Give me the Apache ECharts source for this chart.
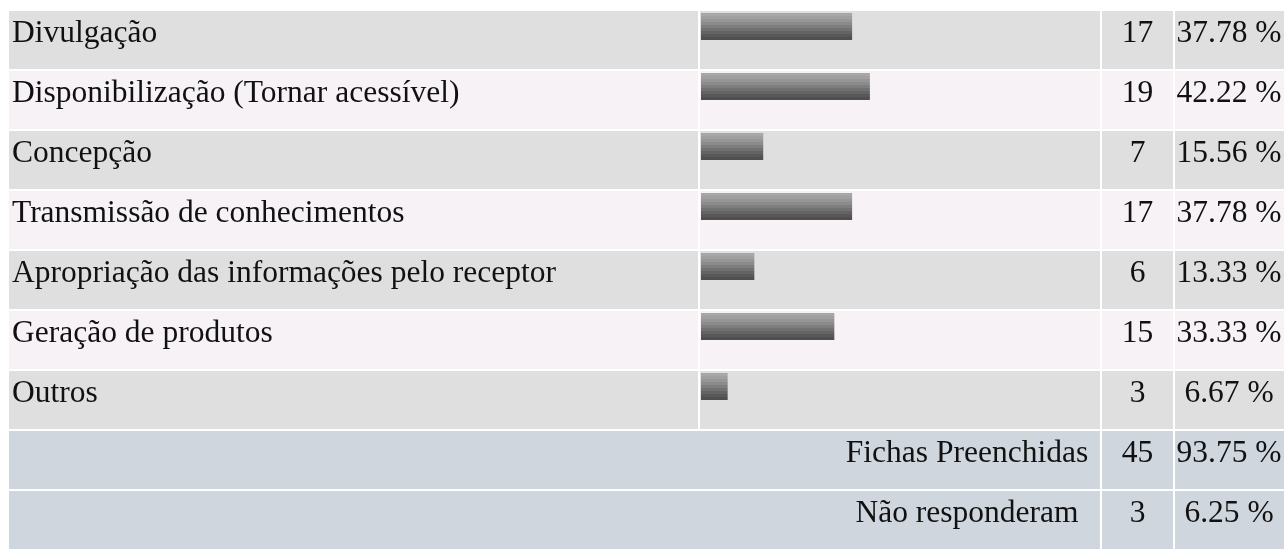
<!DOCTYPE html>
<html>
<head>
<meta charset="utf-8">
<script src="https://cdn.jsdelivr.net/npm/echarts@6/dist/echarts.min.js"></script>
<style>
  html, body { margin: 0; padding: 0; background: #ffffff; }
  #chart { width: 1284px; height: 550px; }
</style>
</head>
<body>
<div id="chart"></div>
<script>
// Survey answers: one row per category, with count and share of the filled-in forms
const categories = [
  'Divulgação',
  'Disponibilização (Tornar acessível)',
  'Concepção',
  'Transmissão de conhecimentos',
  'Apropriação das informações pelo receptor',
  'Geração de produtos',
  'Outros'
];
const counts = [17, 19, 7, 17, 6, 15, 3];
const percents = [37.78, 42.22, 15.56, 37.78, 13.33, 33.33, 6.67];

// Summary rows at the bottom of the table
const summaryLabels = ['Fichas Preenchidas', 'Não responderam'];
const summaryCounts = [45, 3];
const summaryPercents = [93.75, 6.25];

// Table layout (pixels)
const TABLE_TOP = 10;
const ROW_PITCH = 61;
const COL = {
  label: { x: 9, w: 689 },
  bar: { x: 700, w: 400 },
  count: { x: 1102, w: 71 },
  pct: { x: 1175, w: 120 }
};
const TEXT_X = 12;
const COUNT_CX = 1137.5;
const PCT_CX = 1229;
const SUMMARY_CX = 967;
const TEXT_DY = -6;
const FONT = "31.5px 'Liberation Serif', 'Times New Roman', serif";
const TEXT_COLOR = '#111111';
const ROW_COLORS = ['#dfdfdf', '#f6f2f6'];
const SUMMARY_COLOR = '#cfd6de';

const allRows = categories.concat(summaryLabels);
const nRows = allRows.length;
const gridHeight = nRows * ROW_PITCH;

function fmtPct(v) { return v.toFixed(2) + ' %'; }

function textEl(str, x, y, align) {
  return {
    type: 'text',
    x: x, y: y,
    style: {
      text: str, x: 0, y: 0,
      font: FONT, fill: TEXT_COLOR,
      textAlign: align, textVerticalAlign: 'middle'
    }
  };
}

function cellRect(x, top, w, h, color) {
  return { type: 'rect', shape: { x: x, y: top + 1, width: w, height: h - 2 }, style: { fill: color } };
}

// Draws the cells and texts of each table row, positioned by the category axis
function renderRow(params, api) {
  const idx = api.value(1);
  const c = api.coord([0, idx]);
  const h = api.size([0, 1])[1];
  const top = c[1] - h / 2;
  const ty = c[1] + TEXT_DY;
  const children = [];
  const isSummary = idx >= categories.length;
  if (!isSummary) {
    const color = ROW_COLORS[idx % 2];
    children.push(cellRect(COL.label.x, top, COL.label.w, h, color));
    children.push(cellRect(COL.bar.x, top, COL.bar.w, h, color));
    children.push(cellRect(COL.count.x, top, COL.count.w, h, color));
    children.push(cellRect(COL.pct.x, top, COL.pct.w, h, color));
    children.push(textEl(categories[idx], TEXT_X, ty, 'left'));
    children.push(textEl(String(counts[idx]), COUNT_CX, ty, 'center'));
    children.push(textEl(fmtPct(percents[idx]), PCT_CX, ty, 'center'));
  } else {
    const s = idx - categories.length;
    children.push(cellRect(COL.label.x, top, COL.bar.x + COL.bar.w - COL.label.x, h, SUMMARY_COLOR));
    children.push(cellRect(COL.count.x, top, COL.count.w, h, SUMMARY_COLOR));
    children.push(cellRect(COL.pct.x, top, COL.pct.w, h, SUMMARY_COLOR));
    children.push(textEl(summaryLabels[s], SUMMARY_CX, ty, 'center'));
    children.push(textEl(String(summaryCounts[s]), COUNT_CX, ty, 'center'));
    children.push(textEl(fmtPct(summaryPercents[s]), PCT_CX, ty, 'center'));
  }
  return { type: 'group', children: children };
}

// Stepped grey shading of the bars, light at the top and dark at the bottom
const barShades = ['#a7a7a7', '#a0a0a0', '#969696', '#8b8b8b', '#7e7e7e', '#717171', '#646464', '#585858', '#4f4f4f'];
const barStops = [];
barShades.forEach(function (col, i) {
  barStops.push({ offset: i / barShades.length, color: col });
  barStops.push({ offset: (i + 1) / barShades.length, color: col });
});

const BAR_OFFSET = 3;
const BAR_HEIGHT = 27;

function renderBar(params, api) {
  const v = api.value(0);
  const idx = api.value(1);
  const p0 = api.coord([0, idx]);
  const p1 = api.coord([v, idx]);
  const h = api.size([0, 1])[1];
  const top = p0[1] - h / 2;
  return {
    type: 'rect',
    shape: { x: p0[0], y: top + BAR_OFFSET, width: p1[0] - p0[0], height: BAR_HEIGHT },
    style: { fill: new echarts.graphic.LinearGradient(0, 0, 0, 1, barStops) }
  };
}

const chart = echarts.init(document.getElementById('chart'), null, { renderer: 'canvas' });

chart.setOption({
  animation: false,
  backgroundColor: '#ffffff',
  grid: [
    { left: 0, top: TABLE_TOP, width: 1284, height: gridHeight },
    { left: COL.bar.x + 1, top: TABLE_TOP, width: COL.bar.w, height: gridHeight }
  ],
  xAxis: [
    { gridIndex: 0, type: 'value', min: 0, max: 1, show: false },
    { gridIndex: 1, type: 'value', min: 0, max: summaryCounts[0], show: false }
  ],
  yAxis: [
    { gridIndex: 0, type: 'category', inverse: true, data: allRows, show: false },
    { gridIndex: 1, type: 'category', inverse: true, data: allRows, show: false }
  ],
  series: [
    {
      type: 'custom',
      xAxisIndex: 0, yAxisIndex: 0,
      renderItem: renderRow,
      encode: { x: 0, y: 1 },
      data: allRows.map(function (_, i) { return [0, i]; }),
      z: 1,
      silent: true
    },
    {
      type: 'custom',
      xAxisIndex: 1, yAxisIndex: 1,
      renderItem: renderBar,
      encode: { x: 0, y: 1 },
      data: counts.map(function (v, i) { return [v, i]; }),
      z: 2,
      silent: true
    }
  ]
});
</script>
</body>
</html>
